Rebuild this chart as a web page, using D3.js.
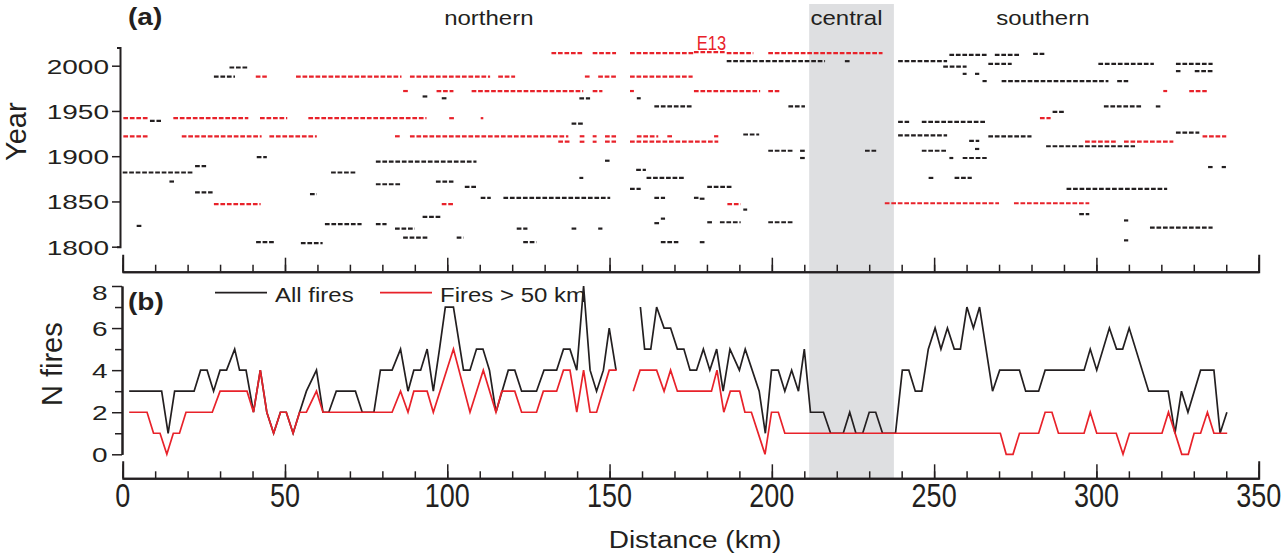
<!DOCTYPE html>
<html>
<head>
<meta charset="utf-8">
<script src="https://cdn.jsdelivr.net/npm/d3@7"></script>
<style>
  body { margin: 0; background: #fff; }
  svg { display: block; }
  text { font-family: "Liberation Sans", Arial, Helvetica, sans-serif; }
</style>
</head>
<body>
<svg id="chart" width="1282" height="556"></svg>
<script>
const ink = '#231f20'
const red = '#e8222a'

// central segment (km)
const centralBand = [211.5, 237.6]

// fire events: [year, from km, to km]
const smallFires = [
  [1998, 32.9, 38.4], [1988, 28.1, 34.6], [1939, 8.4, 11.8], [1899, 41.3, 44.4],
  [1894, 78, 109], [1889, 22.3, 25.7], [1882, 0, 21.8], [1882, 64.2, 72.1],
  [1872, 14.4, 15.8], [1869, 78, 85.9], [1860, 22.3, 27.7], [1858, 57.7, 59.8],
  [1833, 92.4, 98], [1825, 62.3, 73.6], [1825, 78, 81.3], [1823, 4.3, 5.9],
  [1820, 83.9, 90], [1810, 86.4, 93.9], [1805, 41.1, 46.6], [1804, 54.9, 61.6],
  [1966, 92.4, 94], [1964, 98.3, 99.8], [1964, 140.7, 144], [1964, 158.4, 159.6],
  [1955, 163.8, 175.3], [1955, 205.1, 210.2], [1936, 138.3, 141.9], [1924, 191.2, 196.1],
  [1906, 198.9, 206.4], [1906, 208.7, 210.2], [1898, 208.7, 210.2], [1895, 148.6, 150],
  [1885, 158.2, 161.2], [1876, 140.7, 141.9], [1876, 161.4, 173.2], [1872, 96.5, 101.9],
  [1866, 105.4, 109], [1866, 180.1, 187.6], [1864, 156.3, 159.6], [1854, 110.3, 113.4],
  [1854, 117.3, 150.2], [1854, 163.8, 167.1], [1854, 176, 177.4], [1853, 177.8, 179.4],
  [1841, 191.2, 192.4], [1831, 165.8, 167.1], [1827, 180.1, 181.7], [1827, 184, 190.4],
  [1827, 198.9, 206.4], [1826, 163.8, 165.4], [1820, 121.4, 124.7], [1820, 138.3, 139.8],
  [1820, 146.5, 147.8], [1810, 102.9, 105], [1805, 123.4, 127.5], [1805, 165.8, 171.2],
  [1805, 177.8, 179.4], [2005, 186.1, 216.4], [2005, 222.5, 224.3], [2005, 238.9, 254],
  [2012, 254.7, 266.2], [2012, 268.7, 276.2], [2013, 280.5, 284.1], [1999, 252.8, 260],
  [2002, 266.7, 273.9], [2002, 300.6, 317.7], [2002, 324.5, 335.8], [1994, 324.5, 325.9],
  [1994, 330.3, 335.8], [1991, 258.8, 260], [1991, 262.6, 263.9], [1983, 264.9, 266.2],
  [1983, 270.8, 303.7], [1983, 306.4, 309.8], [1955, 302.3, 313.9], [1955, 318.3, 319.7],
  [1949, 286.5, 290], [1938, 238.9, 242.3], [1938, 246.2, 266.2], [1926, 324.5, 331.7],
  [1923, 238.9, 254], [1922, 266.7, 280], [1917, 260.8, 263.9], [1911, 284.5, 311.9],
  [1908, 262.6, 263.9], [1906, 228.7, 232.3], [1906, 246.2, 254], [1898, 254.7, 255.9],
  [1898, 258.8, 266.2], [1888, 334.4, 335.8], [1888, 338.6, 339.9], [1876, 248.3, 249.8],
  [1876, 256.3, 261.6], [1864, 290.8, 321.8], [1836, 294.7, 297.8], [1829, 308.5, 309.8],
  [1821, 316.5, 335.8], [1807, 308.5, 309.8]
]

// fires longer than 50 km
const bigFires = [
  [1988, 41, 44.4], [1988, 53.4, 85.9], [1988, 88.5, 113.2], [1988, 115.7, 120.9],
  [1988, 142.4, 144], [1988, 146.5, 152], [1988, 156.3, 175.6],
  [1972, 86.4, 88], [1972, 96.7, 101.9], [1972, 107.5, 141.9], [1972, 144.8, 147.8],
  [1972, 156.3, 157.5], [1972, 176, 196.4], [1972, 198.9, 202.3], [1972, 320.6, 321.8],
  [1972, 328.6, 334],
  [1942, 0.2, 7.9], [1942, 15.6, 38.7], [1942, 42.3, 50.7], [1942, 57.2, 93.6],
  [1942, 100.6, 102.4], [1942, 110.3, 111.1], [1942, 282.6, 285.9],
  [1922, 0.2, 7.9], [1922, 18.2, 42.8], [1922, 45.2, 59.8], [1922, 83.9, 85.9],
  [1922, 88.5, 137.3], [1922, 140.8, 142.4], [1922, 144.8, 146], [1922, 148.6, 152],
  [1922, 158.4, 165], [1922, 167.8, 169.4], [1922, 182.2, 183.5], [1922, 332.7, 340],
  [1916, 134.2, 137.8], [1916, 140.8, 142.4], [1916, 144.8, 146], [1916, 148.6, 152],
  [1916, 156.3, 183.5], [1916, 296.5, 306], [1916, 308.5, 323.7],
  [1847, 28.1, 42.5], [1847, 98.3, 101.9], [1847, 186.3, 190.4],
  [1848, 234.8, 270], [1848, 274.6, 297.8],
  [2014, 132.1, 141.9], [2014, 144.8, 152], [2014, 156.3, 175.8], [2015, 176, 185.9],
  [2014, 186.1, 194.3], [2014, 198.9, 234.1]
]

// N fires along the transect: [km, n]; null marks the data gap
const allFiresN = [
  [2, 3], [12, 3], [14, 1], [16, 3], [22, 3], [24, 4], [26, 4], [28, 3], [30, 4], [32, 4],
  [34.5, 5], [36, 4], [38, 4], [40.3, 2], [42.4, 4], [44.4, 2], [46.5, 1], [48.6, 2],
  [50.4, 2], [52.5, 1], [54.5, 2], [56.6, 3], [59.7, 4], [61.7, 2], [63.5, 2], [65.8, 3],
  [71.7, 3], [73.8, 2], [77.4, 2], [79.4, 4], [83, 4], [85.6, 5], [87.9, 3], [89.7, 4],
  [91.8, 4], [93.8, 5], [95.7, 3], [97.6, 5], [99.4, 7], [101.9, 7], [105, 4], [107, 4],
  [109, 5], [111, 5], [113, 4], [115, 2], [118.8, 4], [120.8, 4], [122.9, 3], [127.5, 3],
  [129.8, 4], [133.7, 4], [135.8, 5], [137.8, 5], [139.9, 4], [142, 8], [144, 4], [146, 3],
  [148.1, 4], [149.9, 6], [152, 4], [155, null],
  [159.5, 7], [160.8, 5], [162.7, 5], [164.5, 7], [166.8, 6], [168.8, 6], [170.9, 5],
  [172.9, 5], [174.8, 4], [176.8, 4], [178.9, 5], [180.9, 4], [183, 5], [185, 3], [187.1, 5],
  [190, 4], [191.8, 5], [196.1, 3], [198, 1], [199.9, 4], [202, 4], [204, 3], [206.1, 4],
  [208.2, 3], [210, 5], [211.9, 2], [215.9, 2], [218.1, 1], [222, 1], [224, 2], [225.9, 1],
  [228, 1], [230, 2], [232, 2], [234.1, 1], [238.1, 1], [240.2, 4], [242.2, 4], [244.2, 3],
  [246.2, 3], [248.2, 5], [250.3, 6], [252.1, 5], [254.1, 6], [256.2, 5], [258.1, 5],
  [260.1, 7], [262.1, 6], [264, 7], [268, 3], [270.2, 4], [276.3, 4], [278.2, 3], [282.2, 3],
  [284.2, 4], [296.2, 4], [298.1, 5], [300.1, 4], [304, 6], [306.2, 5], [308.1, 5],
  [310.1, 6], [316.1, 3], [322.1, 3], [324.2, 1], [326.2, 3], [328.2, 2], [332.1, 4],
  [336.2, 4], [338.1, 1], [340.2, 2]
]

const bigFiresN = [
  [2, 2], [7.5, 2], [9.5, 1], [11.5, 1], [13.6, 0], [15.6, 1], [17.5, 1], [19.5, 2],
  [27.6, 2], [30, 3], [38.3, 3], [40.3, 2], [42.4, 4], [44.4, 2], [46.5, 1], [48.6, 2],
  [50.4, 2], [52.5, 1], [54.5, 2], [56.6, 2], [59.7, 3], [61.7, 2], [83, 2], [85.6, 3],
  [87.9, 2], [89.7, 3], [93.8, 3], [95.7, 2], [101.9, 5], [107, 2], [111.1, 4], [115, 2],
  [116.8, 3], [120.8, 3], [122.9, 2], [127.5, 2], [129.6, 3], [133.7, 3], [135.8, 4],
  [137.8, 4], [139.9, 2], [142, 4], [144, 2], [146, 2], [149.9, 4], [152.2, 4], [155, null],
  [157.3, 3], [159.4, 4], [164.5, 4], [166.8, 3], [168.8, 4], [170.9, 3], [181.4, 3],
  [183.1, 4], [185.2, 2], [187.2, 3], [190.1, 3], [191.7, 2], [193.7, 2], [197.9, 0],
  [199.9, 2], [202, 2], [204, 1], [270.4, 1], [272.2, 0], [274.3, 0], [276.3, 1], [282.2, 1],
  [284.2, 2], [286.3, 2], [288.3, 1], [296.2, 1], [298.1, 2], [300.1, 1], [306.1, 1],
  [308.2, 0], [310.2, 1], [320.2, 1], [322.2, 2], [326.3, 0], [328.3, 0], [330.1, 1],
  [332.1, 1], [334.2, 2], [336.2, 1], [340.3, 1]
]

const yearTicks = [1800, 1850, 1900, 1950, 2000]
const nTicks = [0, 2, 4, 6, 8]
const nMinorTicks = [1, 3, 5, 7]
const kmTicks = [0, 50, 100, 150, 200, 250, 300, 350]
const kmMinorTicks = d3.range(0, 351, 10)
const regions = [['northern', 112.8], ['central', 223], ['southern', 283.5]]

const svg = d3.select('#chart')

const x = d3.scaleLinear().domain([0, 350]).range([122.7, 1258.7])
const yYear = d3.scaleLinear().domain([1800, 2020]).range([246.7, 47.6])
const yN = d3.scaleLinear().domain([0, 8]).range([454.3, 286])

// text with independent horizontal / vertical stretch
const addText = (sel, str, o) => sel.append('text')
  .attr('transform', `translate(${o.x},${o.y}) rotate(${o.rotate || 0}) scale(${o.sx || 1},${o.sy || 1})`)
  .attr('text-anchor', o.anchor || 'start')
  .attr('font-size', o.size)
  .attr('font-weight', o.bold ? 'bold' : null)
  .attr('fill', o.color || ink)
  .text(str)

const styleAxis = (g, width) => {
  g.selectAll('path').attr('stroke', ink).attr('stroke-width', width || 2)
  g.selectAll('line').attr('stroke', ink).attr('stroke-width', 1.5)
}

// grey band for the central segment
svg.append('rect')
  .attr('x', x(centralBand[0]))
  .attr('y', 4)
  .attr('width', x(centralBand[1]) - x(centralBand[0]))
  .attr('height', 474)
  .attr('fill', '#dedfe1')

// (a) fire records
const drawFires = (data, color) => {
  svg.append('g')
    .selectAll('line')
    .data(data)
    .enter()
    .append('line')
    .attr('x1', d => x(d[1]))
    .attr('x2', d => x(d[2]))
    .attr('y1', d => yYear(d[0]))
    .attr('y2', d => yYear(d[0]))
    .attr('stroke', color)
    .attr('stroke-width', 2.2)
    .attr('stroke-dasharray', '4.7,1.8')
}
drawFires(smallFires, ink)
drawFires(bigFires, red)

// axes of panel (a)
const ayTop = svg.append('g').attr('transform', 'translate(120,0)')
  .call(d3.axisLeft(yYear).tickValues(yearTicks).tickSize(8).tickSizeOuter(3).tickFormat(''))
styleAxis(ayTop)
yearTicks.forEach(v => addText(svg, v, { x: 109, y: yYear(v) + 8, anchor: 'end', size: 28, sy: 0.73 }))

const kmAxis = (yPos, labels) => {
  const minor = svg.append('g').attr('transform', `translate(0,${yPos})`)
    .call(d3.axisTop(x).tickValues(kmMinorTicks).tickSize(7).tickSizeOuter(0).tickFormat(''))
  styleAxis(minor)
  const major = svg.append('g').attr('transform', `translate(0,${yPos})`)
    .call(d3.axisTop(x).tickValues(kmTicks).tickSize(14).tickSizeOuter(17).tickFormat(''))
  styleAxis(major)
  if (labels) {
    kmTicks.forEach(v => addText(svg, v, { x: x(v), y: yPos + 28.4, anchor: 'middle', size: 27, sy: 1.22 }))
  }
}
kmAxis(271.7, false)
kmAxis(478.3, true)

// (b) number of fires
const ayBot = svg.append('g').attr('transform', 'translate(122,0)')
  .call(d3.axisLeft(yN).tickValues(nTicks).tickSize(10).tickSizeOuter(0).tickFormat(''))
styleAxis(ayBot)
const ayBotMinor = svg.append('g').attr('transform', 'translate(122,0)')
  .call(d3.axisLeft(yN).tickValues(nMinorTicks).tickSize(7).tickSizeOuter(0).tickFormat(''))
styleAxis(ayBotMinor)
nTicks.forEach(v => addText(svg, v, { x: 107.5, y: yN(v) + (v === 8 ? 14 : 8), anchor: 'end', size: 28, sy: 0.73 }))

const line = d3.line()
  .defined(d => d[1] !== null)
  .x(d => x(d[0]))
  .y(d => yN(d[1]))

svg.append('path').datum(allFiresN)
  .attr('d', line).attr('fill', 'none').attr('stroke', ink).attr('stroke-width', 1.7)
svg.append('path').datum(bigFiresN)
  .attr('d', line).attr('fill', 'none').attr('stroke', red).attr('stroke-width', 1.7)

// legend
svg.append('line').attr('x1', 215).attr('x2', 267).attr('y1', 292.7).attr('y2', 292.7)
  .attr('stroke', ink).attr('stroke-width', 1.7)
addText(svg, 'All fires', { x: 275, y: 301.7, size: 24, sy: 0.88 })
svg.append('line').attr('x1', 380).attr('x2', 432).attr('y1', 292.7).attr('y2', 292.7)
  .attr('stroke', red).attr('stroke-width', 1.7)
addText(svg, 'Fires > 50 km', { x: 440, y: 301.7, size: 24, sy: 0.88 })

// labels
addText(svg, '(a)', { x: 128, y: 25, size: 28, sy: 0.84, bold: true })
addText(svg, '(b)', { x: 128, y: 310, size: 28, sy: 0.84, bold: true })
regions.forEach(r => addText(svg, r[0], { x: x(r[1]), y: 25, anchor: 'middle', size: 24, sy: 0.87 }))
addText(svg, 'E13', { x: 711.5, y: 50, anchor: 'middle', size: 16.5, sy: 1.27, color: red })
addText(svg, 'Year', { x: 26, y: 131.7, rotate: -90, anchor: 'middle', size: 29 })
addText(svg, 'N  fires', { x: 61.7, y: 364.2, rotate: -90, anchor: 'middle', size: 29 })
addText(svg, 'Distance (km)', { x: 695, y: 548.3, anchor: 'middle', size: 28, sy: 0.83 })
</script>
</body>
</html>
